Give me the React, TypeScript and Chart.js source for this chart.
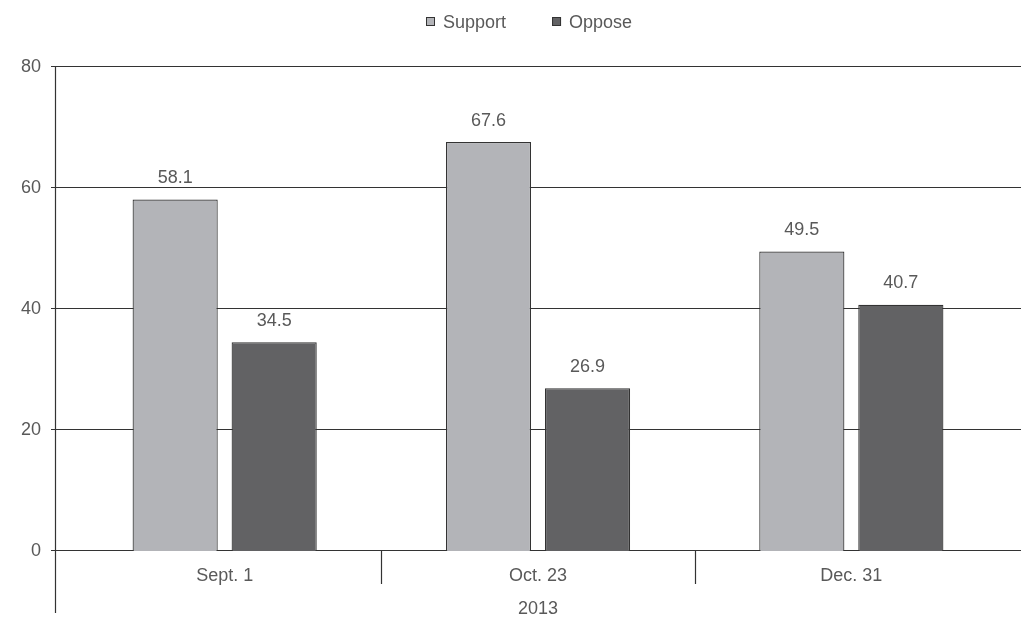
import React, { useEffect, useRef } from "react";
import { Chart, registerables } from "chart.js";

Chart.register(...registerables);

const categories = ["Sept. 1", "Oct. 23", "Dec. 31"];
const groupLabel = "2013";
const supportValues = [58.1, 67.6, 49.5];
const opposeValues = [34.5, 26.9, 40.7];
const seriesNames = ["Support", "Oppose"];
const yTicks = [0, 20, 40, 60, 80];

const FONT = "'Liberation Sans', Arial, sans-serif";
const TEXT = "#595959";
const LINE = "#333333";

const decorPlugin = {
  id: "decor",
  beforeDatasetsDraw(chart: any) {
    const { ctx, chartArea, scales } = chart;
    const y = scales.y;
    const x = scales.x;
    const axisX = chartArea.left - 13;
    ctx.save();
    ctx.strokeStyle = LINE;
    ctx.lineWidth = 1.2;
    yTicks.forEach((v) => {
      const py = Math.round(y.getPixelForValue(v)) - 0.5;
      ctx.beginPath();
      ctx.moveTo(axisX - 4, py);
      ctx.lineTo(chart.width, py);
      ctx.stroke();
    });
    ctx.beginPath();
    ctx.moveTo(axisX + 0.5, Math.round(y.getPixelForValue(80)) - 1);
    ctx.lineTo(axisX + 0.5, chart.height - 5);
    ctx.stroke();
    const bottom = Math.round(y.getPixelForValue(0));
    for (let i = 0; i < categories.length - 1; i++) {
      const px = Math.round((x.getPixelForValue(i) + x.getPixelForValue(i + 1)) / 2) + 0.5;
      ctx.beginPath();
      ctx.moveTo(px, bottom);
      ctx.lineTo(px, bottom + 33);
      ctx.stroke();
    }
    ctx.restore();
  },
  afterDatasetsDraw(chart: any) {
    const { ctx } = chart;
    ctx.save();
    ctx.font = `18px ${FONT}`;
    ctx.fillStyle = TEXT;
    ctx.textAlign = "center";
    ctx.textBaseline = "alphabetic";
    chart.data.datasets.forEach((ds: any, di: number) => {
      const meta = chart.getDatasetMeta(di);
      meta.data.forEach((bar: any, i: number) => {
        ctx.fillText(Number(ds.data[i]).toFixed(1), bar.x, bar.y - 16.5);
      });
    });
    ctx.restore();
  },
  afterDraw(chart: any) {
    const { ctx } = chart;
    ctx.save();
    ctx.font = `18px ${FONT}`;
    const box = 9;
    const textGap = 17;
    const itemGap = 46;
    const widths = chart.data.datasets.map((ds: any) => ctx.measureText(ds.label).width);
    const total = widths.reduce((a: number, w: number) => a + textGap + w, 0) + itemGap * (widths.length - 1);
    let cx = Math.round(529 - total / 2);
    chart.data.datasets.forEach((ds: any, i: number) => {
      ctx.fillStyle = ds.backgroundColor;
      ctx.fillRect(cx, 17, box, box);
      ctx.strokeStyle = LINE;
      ctx.lineWidth = 1;
      ctx.strokeRect(cx + 0.5, 17.5, box - 1, box - 1);
      ctx.fillStyle = TEXT;
      ctx.textAlign = "left";
      ctx.textBaseline = "alphabetic";
      ctx.fillText(ds.label, cx + textGap, 27.5);
      cx += textGap + widths[i] + itemGap;
    });
    ctx.restore();
  },
};

export default function App() {
  const ref = useRef<HTMLCanvasElement>(null);
  useEffect(() => {
    document.body.style.margin = "0";
    const chart = new Chart(ref.current as HTMLCanvasElement, {
      type: "bar",
      data: {
        labels: categories,
        datasets: [
          {
            label: seriesNames[0],
            data: supportValues,
            backgroundColor: "#b3b4b8",
            borderColor: LINE,
            borderWidth: 1.2,
            categoryPercentage: 0.632,
            barPercentage: 0.86,
          },
          {
            label: seriesNames[1],
            data: opposeValues,
            backgroundColor: "#626264",
            borderColor: LINE,
            borderWidth: 1.2,
            categoryPercentage: 0.632,
            barPercentage: 0.86,
          },
        ],
      },
      options: {
        responsive: false,
        animation: false,
        devicePixelRatio: 1,
        layout: { padding: { top: 67, right: 13, left: 0, bottom: 0 } },
        plugins: {
          legend: { display: false },
          tooltip: { enabled: false },
        },
        scales: {
          x: {
            offset: true,
            grid: { display: false, drawTicks: false },
            border: { display: false },
            ticks: {
              font: { family: FONT, size: 18 },
              color: TEXT,
              padding: 14,
            },
            title: {
              display: true,
              text: groupLabel,
              font: { family: FONT, size: 18, lineHeight: 1 },
              color: TEXT,
              padding: 0,
            },
            afterFit: (s: any) => {
              s.height = 67;
            },
          },
          y: {
            min: 0,
            max: 80,
            grid: { display: false, drawTicks: false },
            border: { display: false },
            ticks: {
              stepSize: 20,
              font: { family: FONT, size: 18 },
              color: TEXT,
              padding: 27,
            },
            afterBuildTicks: (s: any) => {
              s.ticks = yTicks.map((v) => ({ value: v }));
            },
            afterFit: (s: any) => {
              s.width = 68;
            },
          },
        },
      },
      plugins: [decorPlugin],
    });
    return () => chart.destroy();
  }, []);
  return (
    <div style={{ position: "fixed", left: 0, top: 0, width: 1021, height: 618 }}>
      <canvas ref={ref} width={1021} height={618} />
    </div>
  );
}
